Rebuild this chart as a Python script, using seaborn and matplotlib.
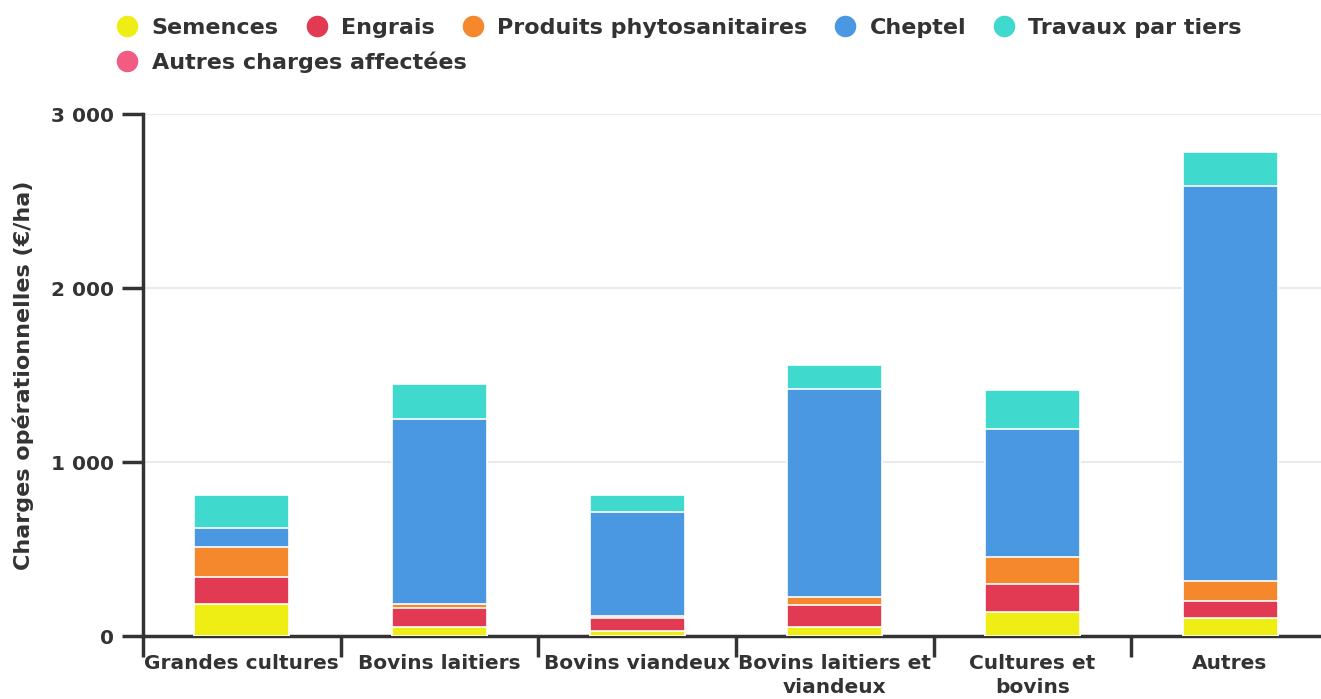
import numpy as np
import matplotlib
matplotlib.use("Agg")
import matplotlib.pyplot as plt
from matplotlib.lines import Line2D
from matplotlib.ticker import FixedLocator, FuncFormatter
import seaborn as sns

# Data (€/ha)
categories = ["Grandes cultures", "Bovins laitiers", "Bovins viandeux",
              "Bovins laitiers et\nviandeux", "Cultures et\nbovins", "Autres"]
series_names = ["Semences", "Engrais", "Produits phytosanitaires", "Cheptel",
                "Travaux par tiers", "Autres charges affectées"]
semences = [184, 54, 29, 52, 136, 105]
engrais = [155, 107, 76, 128, 163, 98]
phyto = [172, 23, 8, 44, 155, 111]
cheptel = [110, 1063, 600, 1196, 736, 2274]
travaux = [189, 201, 96, 137, 226, 195]
autres = [0, 0, 0, 0, 0, 0]
colors = ["#eeee15", "#e23a53", "#f5882c", "#4a98e2", "#3fd9ce", "#f25c82"]

series = [semences, engrais, phyto, cheptel, travaux, autres]
cum = np.cumsum(np.array(series), axis=0)

sns.set_style("white")
plt.rcParams["font.family"] = ["DejaVu Sans"]
dark = "#333333"

fig = plt.figure(figsize=(13.21, 6.99), dpi=100)
ax = fig.add_axes([143 / 1321, 63 / 699, 1 - 143 / 1321, (636 - 114) / 699])

# stacked bars: draw cumulative totals from the top segment down
for i in range(len(series) - 1, -1, -1):
    sns.barplot(x=list(range(len(categories))), y=cum[i], color=colors[i],
                width=0.48, edgecolor="white", linewidth=1.2, ax=ax,
                saturation=1, zorder=3)

ax.set_ylim(0, 3000)
ax.set_xlim(-0.5, 5.46)
ax.yaxis.set_major_locator(FixedLocator([0, 1000, 2000, 3000]))
ax.yaxis.set_major_formatter(FuncFormatter(lambda v, p: f"{int(v):,}".replace(",", " ")))
ax.grid(axis="y", color="#e6e6e6", linewidth=1.2, zorder=0)
ax.set_axisbelow(True)

# category labels centred, tick marks on the boundaries
ax.xaxis.set_major_locator(FixedLocator([-0.5, 0.5, 1.5, 2.5, 3.5, 4.5]))
ax.xaxis.set_major_formatter(FuncFormatter(lambda v, p: ""))
ax.set_xticks(list(range(len(categories))), minor=True)
ax.set_xticklabels(categories, minor=True, fontsize=14.5, fontweight="bold",
                   color=dark, linespacing=1.3)
ax.tick_params(axis="x", which="major", length=15, width=2.5, color=dark,
               direction="out", bottom=True)
ax.tick_params(axis="x", which="minor", length=0, pad=13)
ax.tick_params(axis="y", length=15, width=2.5, color=dark, labelsize=14.5,
               labelcolor=dark, pad=6, left=True)
for lab in ax.get_yticklabels():
    lab.set_fontweight("bold")

for s in ["top", "right"]:
    ax.spines[s].set_visible(False)
for s in ["left", "bottom"]:
    ax.spines[s].set_color(dark)
    ax.spines[s].set_linewidth(2.5)

ax.set_xlabel("")
ax.set_ylabel("Charges opérationnelles (€/ha)", fontsize=16, fontweight="bold",
              color=dark, labelpad=12)

# legend
handles = [Line2D([], [], marker="o", linestyle="", markersize=14.5,
                  markerfacecolor=c, markeredgecolor=c) for c in colors]
leg_kw = dict(loc="center left", frameon=False, handletextpad=0.5,
              handlelength=1.2, prop={"size": 16, "weight": "bold"},
              labelcolor=dark)
fig.legend(handles[:5], series_names[:5], bbox_to_anchor=(0.0712, 1 - 28 / 699),
           ncol=5, columnspacing=1.1, **leg_kw)
fig.legend(handles[5:], series_names[5:], bbox_to_anchor=(0.0712, 1 - 62 / 699),
           ncol=1, **leg_kw)

fig.savefig("out.png", dpi=100)
